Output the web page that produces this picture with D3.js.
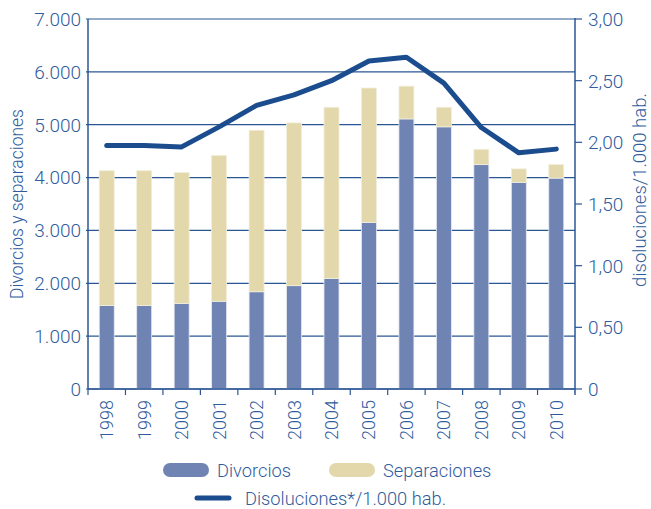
<!DOCTYPE html>
<html>
<head>
<meta charset="utf-8">
<script src="https://cdn.jsdelivr.net/npm/d3@7"></script>
<style>
    body { margin: 0; background: #fff; }
    svg text { font-family: Roboto, "Liberation Sans", sans-serif; font-weight: 300; fill: #2f5c9c; }
</style>
</head>
<body>
<div id="chart"></div>
<script>
const years = ["1998", "1999", "2000", "2001", "2002", "2003", "2004", "2005", "2006", "2007", "2008", "2009", "2010"];
const divorcios = [1580, 1580, 1620, 1660, 1840, 1955, 2090, 3150, 5110, 4960, 4245, 3910, 3990];
const separaciones = [2550, 2550, 2475, 2760, 3055, 3080, 3240, 2545, 620, 370, 290, 255, 255];
const disoluciones = [1.975, 1.975, 1.963, 2.125, 2.30, 2.385, 2.50, 2.66, 2.69, 2.48, 2.12, 1.915, 1.945];
const leftTicks = [0, 1000, 2000, 3000, 4000, 5000, 6000, 7000];
const rightTicks = [0, 0.5, 1, 1.5, 2, 2.5, 3];

const width = 651, height = 509;
const margin = {top: 19, right: 76, bottom: 120, left: 88};

const svg = d3.select("#chart").append("svg")
    .attr("width", width)
    .attr("height", height);

const x = d3.scaleBand()
    .domain(years)
    .range([margin.left, width - margin.right])
    .paddingInner(0.6)
    .paddingOuter(0.3);

const xTicks = d3.scaleBand()
    .domain(years)
    .range([margin.left, width - margin.right]);

const yLeft = d3.scaleLinear()
    .domain([0, 7000])
    .range([height - margin.bottom, margin.top]);

const yRight = d3.scaleLinear()
    .domain([0, 3])
    .range([height - margin.bottom, margin.top]);

const fmtLeft = d => d === 0 ? "0" : d3.format(",")(d).replace(/,/g, ".");
const fmtRight = d => d === 0 ? "0" : d3.format(".2f")(d).replace(".", ",");

// gridlines
svg.append("g")
    .selectAll("line")
    .data(leftTicks)
    .enter()
    .append("line")
    .attr("x1", margin.left - 2)
    .attr("x2", width - margin.right)
    .attr("y1", d => yLeft(d))
    .attr("y2", d => yLeft(d))
    .attr("stroke", "#2b5694")
    .attr("stroke-width", 1.2);

// stacked bars
const stackData = years.map((y, i) => ({year: y, div: divorcios[i], sep: separaciones[i]}));

const bars = svg.append("g");
bars.selectAll("rect.div")
    .data(stackData)
    .enter()
    .append("rect")
    .attr("class", "div")
    .attr("x", d => x(d.year))
    .attr("width", x.bandwidth())
    .attr("y", d => yLeft(d.div))
    .attr("height", d => yLeft(0) - yLeft(d.div))
    .attr("fill", "#6f84b3")
    .attr("stroke", "#e6e9f2")
    .attr("stroke-width", 0.8);

bars.selectAll("rect.sep")
    .data(stackData)
    .enter()
    .append("rect")
    .attr("class", "sep")
    .attr("x", d => x(d.year))
    .attr("width", x.bandwidth())
    .attr("y", d => yLeft(d.div + d.sep))
    .attr("height", d => yLeft(d.div) - yLeft(d.div + d.sep))
    .attr("fill", "#e2d8ab")
    .attr("stroke", "#f2eedc")
    .attr("stroke-width", 0.8);

// left axis
svg.append("line")
    .attr("x1", margin.left).attr("x2", margin.left)
    .attr("y1", margin.top).attr("y2", yLeft(0))
    .attr("stroke", "#2b5694").attr("stroke-width", 1.5);

svg.append("g")
    .selectAll("text")
    .data(leftTicks)
    .enter()
    .append("text")
    .attr("x", margin.left - 7)
    .attr("y", d => yLeft(d))
    .attr("dy", "0.36em")
    .attr("text-anchor", "end")
    .style("font-size", "19px")
    .text(fmtLeft);

// right axis
const rightX = width - margin.right;
svg.append("line")
    .attr("x1", rightX).attr("x2", rightX)
    .attr("y1", margin.top - 1).attr("y2", yLeft(0) + 6)
    .attr("stroke", "#2b5694").attr("stroke-width", 1.5);

const rAxis = svg.append("g");
rAxis.selectAll("line")
    .data(rightTicks)
    .enter()
    .append("line")
    .attr("x1", rightX)
    .attr("x2", rightX + 7)
    .attr("y1", d => yRight(d))
    .attr("y2", d => yRight(d))
    .attr("stroke", "#2b5694")
    .attr("stroke-width", 1.2);

rAxis.selectAll("text")
    .data(rightTicks)
    .enter()
    .append("text")
    .attr("x", rightX + 13)
    .attr("y", d => yRight(d))
    .attr("dy", "0.36em")
    .style("font-size", "19px")
    .text(fmtRight);

// bottom axis
const xAxisY = yLeft(0);
svg.append("line")
    .attr("x1", margin.left).attr("x2", rightX)
    .attr("y1", xAxisY).attr("y2", xAxisY)
    .attr("stroke", "#2b5694").attr("stroke-width", 1.5);

svg.append("g")
    .selectAll("line")
    .data(years)
    .enter()
    .append("line")
    .attr("x1", d => xTicks(d))
    .attr("x2", d => xTicks(d))
    .attr("y1", xAxisY)
    .attr("y2", xAxisY + 6)
    .attr("stroke", "#2b5694")
    .attr("stroke-width", 1.2);

svg.append("g")
    .selectAll("text")
    .data(years)
    .enter()
    .append("text")
    .attr("transform", d => "translate(" + (xTicks(d) + xTicks.bandwidth() / 2) + "," + (xAxisY + 11) + ") rotate(-90)")
    .attr("text-anchor", "end")
    .attr("dy", "0.36em")
    .style("font-size", "18px")
    .text(d => d);

// line series
const line = d3.line()
    .x((d, i) => x(years[i]) + x.bandwidth() / 2)
    .y(d => yRight(d));

svg.append("path")
    .datum(disoluciones)
    .attr("d", line)
    .attr("fill", "none")
    .attr("stroke", "#1b4c8e")
    .attr("stroke-width", 5)
    .attr("stroke-linecap", "round")
    .attr("stroke-linejoin", "round");

// axis titles
svg.append("text")
    .attr("transform", "translate(17," + (yLeft(3500)) + ") rotate(-90)")
    .attr("text-anchor", "middle")
    .attr("dy", "0.36em")
    .style("font-size", "17.5px")
    .text("Divorcios y separaciones");

svg.append("text")
    .attr("transform", "translate(639," + (yLeft(3500) - 14) + ") rotate(-90)")
    .attr("text-anchor", "middle")
    .attr("dy", "0.36em")
    .style("font-size", "18.5px")
    .text("disoluciones/1.000 hab.");

// legend
const legend = svg.append("g");
const legendItems = [
    {name: "Divorcios", color: "#6f84b3", x: 163},
    {name: "Separaciones", color: "#e2d8ab", x: 329}
];
legend.selectAll("rect")
    .data(legendItems)
    .enter()
    .append("rect")
    .attr("x", d => d.x)
    .attr("y", 463)
    .attr("width", 46)
    .attr("height", 14)
    .attr("rx", 7)
    .attr("fill", d => d.color);

legend.selectAll("text.item")
    .data(legendItems)
    .enter()
    .append("text")
    .attr("class", "item")
    .attr("x", d => d.x + 54)
    .attr("y", 470)
    .attr("dy", "0.36em")
    .style("font-size", "18.3px")
    .text(d => d.name);

legend.append("line")
    .attr("x1", 197).attr("x2", 229)
    .attr("y1", 498).attr("y2", 498)
    .attr("stroke", "#1b4c8e")
    .attr("stroke-width", 5)
    .attr("stroke-linecap", "round");

legend.append("text")
    .attr("x", 245)
    .attr("y", 498)
    .attr("dy", "0.36em")
    .style("font-size", "18.3px")
    .text("Disoluciones*/1.000 hab.");
</script>
</body>
</html>
